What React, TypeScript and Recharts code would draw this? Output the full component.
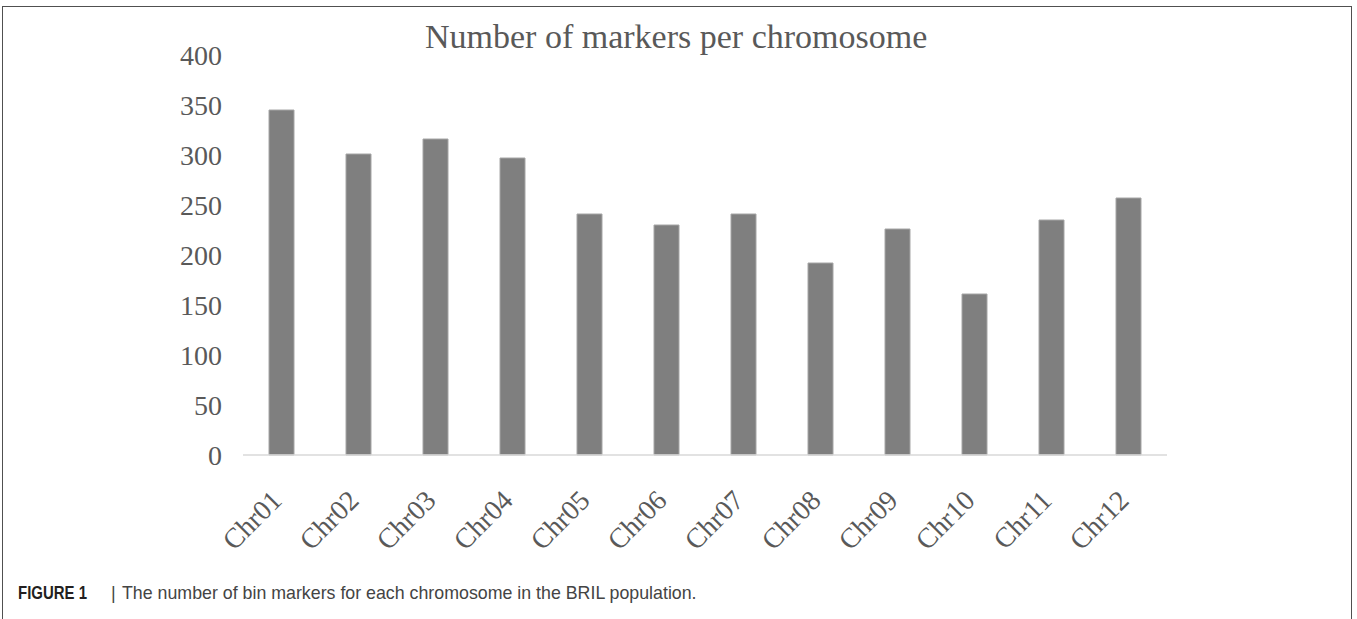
import React from 'react';
import { BarChart, Bar, XAxis, YAxis } from 'recharts';

const chromosomes = ['Chr01', 'Chr02', 'Chr03', 'Chr04', 'Chr05', 'Chr06', 'Chr07', 'Chr08', 'Chr09', 'Chr10', 'Chr11', 'Chr12'];
const markerCounts = [345, 301, 316, 297, 241, 230, 241, 192, 226, 161, 235, 257];
const yTicks = [0, 50, 100, 150, 200, 250, 300, 350, 400];
const chartTitle = 'Number of markers per chromosome';
const captionLabel = 'FIGURE 1';
const captionBar = '|';
const captionText = 'The number of bin markers for each chromosome in the BRIL population.';

const data = chromosomes.map((name, i) => ({ name, value: markerCounts[i] }));

const SERIF = '"Liberation Serif", "Times New Roman", serif';
const SANS = '"Liberation Sans", Arial, sans-serif';
const TEXT_GRAY = '#595959';

const XTick = (props: any) => {
  const { x, y, payload } = props;
  const tx = x + 2;
  const ty = y + 47;
  return (
    <text
      x={tx}
      y={ty}
      transform={`rotate(-45 ${tx} ${ty})`}
      textAnchor="end"
      fill={TEXT_GRAY}
      fontFamily={SERIF}
      fontSize={28}
    >
      {payload.value}
    </text>
  );
};

export default function App() {
  return (
    <div
      style={{
        position: 'absolute',
        left: 0,
        top: 0,
        width: 1357,
        height: 619,
        overflow: 'hidden',
        background: '#ffffff',
      }}
    >
      <div
        style={{
          position: 'absolute',
          left: 2,
          top: 6,
          width: 1348,
          height: 700,
          border: '1px solid #505050',
        }}
      />
      <div style={{ position: 'absolute', left: 0, top: 0 }}>
        <BarChart
          width={1357}
          height={619}
          data={data}
          margin={{ top: 55, right: 190, bottom: 64, left: 183 }}
        >
          <YAxis
            type="number"
            domain={[0, 400]}
            ticks={yTicks}
            width={60}
            axisLine={false}
            tickLine={false}
            tickSize={0}
            tickMargin={21}
            interval={0}
            tick={{ fill: TEXT_GRAY, fontFamily: SERIF, fontSize: 28 }}
          />
          <XAxis
            dataKey="name"
            type="category"
            interval={0}
            height={100}
            tickLine={false}
            tickSize={0}
            tickMargin={0}
            axisLine={{ stroke: '#d9d9d9', strokeWidth: 1.5 }}
            tick={<XTick />}
          />
          <Bar
            dataKey="value"
            fill="#7f7f7f"
            stroke="#a6a6a6"
            strokeWidth={1}
            barSize={25}
            isAnimationActive={false}
          />
        </BarChart>
      </div>
      <svg
        width={1357}
        height={619}
        style={{ position: 'absolute', left: 0, top: 0, pointerEvents: 'none' }}
      >
        <text x={425} y={48} fontFamily={SERIF} fontSize={34} fill={TEXT_GRAY}>
          {chartTitle}
        </text>
        <text
          x={18}
          y={599}
          fontFamily={SANS}
          fontSize={17.5}
          fontWeight="bold"
          fill="#231f20"
          textLength={69}
          lengthAdjust="spacingAndGlyphs"
        >
          {captionLabel}
        </text>
        <text x={111} y={599} fontFamily={SANS} fontSize={18} fill="#444444">
          {captionBar}
        </text>
        <text x={122} y={599} fontFamily={SANS} fontSize={17.8} fill="#444444">
          {captionText}
        </text>
      </svg>
    </div>
  );
}
